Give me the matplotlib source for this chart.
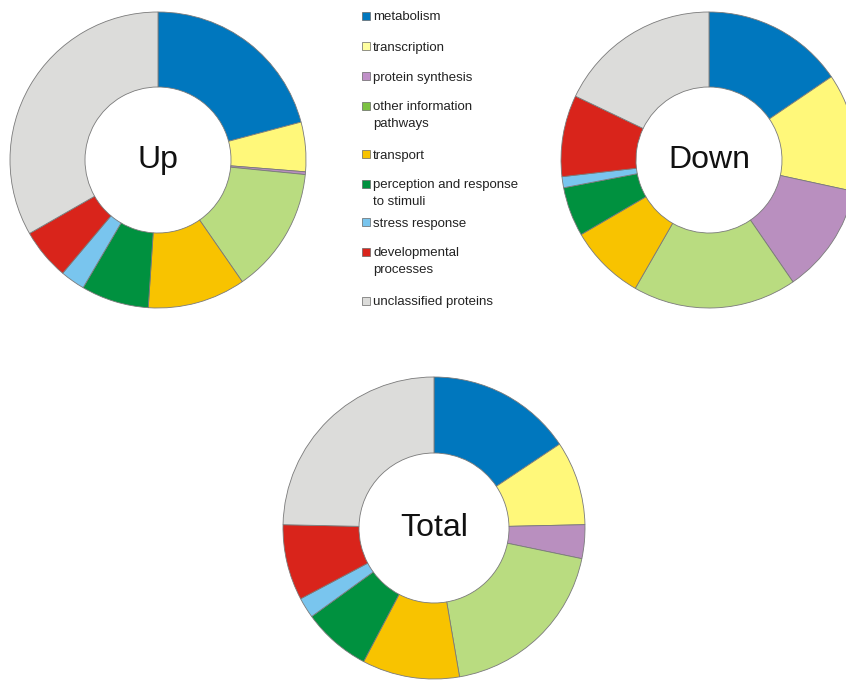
import numpy as np
import matplotlib
matplotlib.use("Agg")
import matplotlib.pyplot as plt

plt.rcParams['font.family'] = ['Liberation Sans', 'DejaVu Sans']

# categories and shares (%) read from the three rings
categories = ["metabolism", "transcription", "protein synthesis",
              "other information\npathways", "transport",
              "perception and response\nto stimuli", "stress response",
              "developmental\nprocesses", "unclassified proteins"]
up_values = [20.9, 5.4, 0.3, 13.8, 10.7, 7.4, 2.7, 5.6, 33.3]
down_values = [15.5, 12.9, 12.0, 17.9, 8.3, 5.4, 1.2, 8.9, 17.9]
total_values = [15.6, 9.0, 3.6, 19.0, 10.4, 7.3, 2.2, 8.1, 24.6]

pie_colors = ["#0077be", "#fff87a", "#b98fbf", "#b9dc80", "#f8c300",
              "#00913f", "#79c5ee", "#d9241b", "#dcdcda"]
legend_colors = ["#0077be", "#ffffa0", "#c090c8", "#7cc242", "#f8c300",
                 "#00913f", "#79c5ee", "#d9241b", "#dcdcda"]

W, H = 846, 681
fig = plt.figure(figsize=(W / 100, H / 100), dpi=100)
ax = fig.add_axes([0, 0, 1, 1])


def ring(values, cx, cy, r, r_in, label):
    ax.pie(values, colors=pie_colors, startangle=90, counterclock=False,
           center=(cx, H - cy), radius=r, frame=True,
           wedgeprops=dict(width=r - r_in, edgecolor="#7a7a7a", linewidth=0.6))
    ax.text(cx, H - cy, label, ha="center", va="center", fontsize=23,
            color="#111111")


ring(up_values, 158, 160, 148, 73, "Up")
ring(down_values, 709, 160, 148, 73, "Down")
ring(total_values, 434, 528, 151, 75, "Total")

# legend drawn by hand, y of each swatch in pixels from the top
rows_y = [16, 46, 76, 106, 154, 184, 222, 252, 301]
for name, col, y in zip(categories, legend_colors, rows_y):
    ax.add_patch(plt.Rectangle((362, H - y - 4), 8, 8, facecolor=col,
                               edgecolor="#666666", linewidth=0.5))
    if "\n" in name:
        ax.text(373, H - y + 5, name, ha="left", va="top", fontsize=9.5,
                color="#222222", linespacing=1.55)
    else:
        ax.text(373, H - y, name, ha="left", va="center_baseline",
                fontsize=9.5, color="#222222")

ax.set_xlim(0, W)
ax.set_ylim(0, H)
ax.set_aspect("equal")
ax.axis("off")

fig.savefig("out.png", dpi=100)
